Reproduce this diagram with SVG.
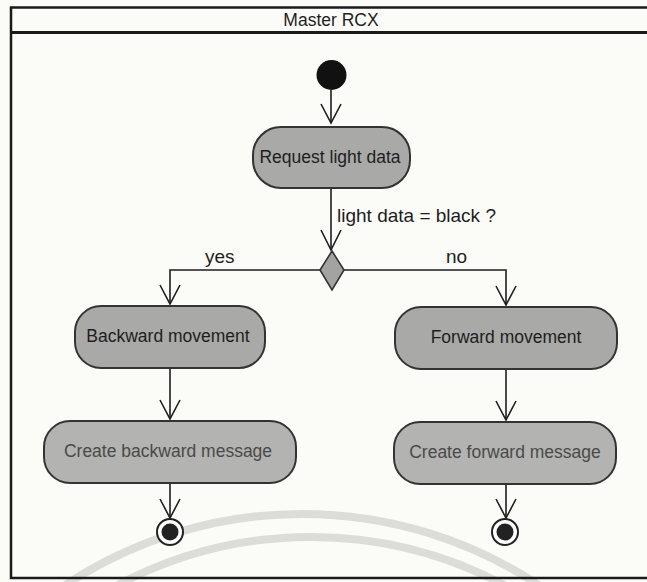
<svg xmlns="http://www.w3.org/2000/svg" width="647" height="582" viewBox="0 0 647 582">
  <style>
    .frame { fill: none; stroke: #1a1a1a; stroke-width: 2.5; }
    .action rect { fill: #a9a9a7; stroke: #333; stroke-width: 2; }
    .action.light rect { fill: #b3b3b1; }
    .action text { font-family: "Liberation Sans", Arial, sans-serif; font-size: 17.5px; fill: #1e1e1e; text-anchor: middle; }
    .action.light text { fill: #4a4a4a; }
    .title { font-family: "Liberation Sans", Arial, sans-serif; font-size: 17.5px; fill: #1e1e1e; text-anchor: middle; }
    .label { font-family: "Liberation Sans", Arial, sans-serif; font-size: 19px; fill: #1e1e1e; }
    .flow { fill: none; stroke: #1e1e1e; stroke-width: 1.6; }
    .head { fill: none; stroke: #1e1e1e; stroke-width: 1.6; }
    .arc { fill: none; stroke: #dcdcd9; stroke-width: 8; }
  </style>

  <rect x="0" y="0" width="647" height="582" fill="#fbfbf8"/>

  <!-- faint arcs along the bottom -->
  <g id="arcs">
    <path class="arc" d="M 64 586 A 429 429 0 0 1 540 586"/>
    <path class="arc" d="M 116 586 A 412 412 0 0 1 506 586"/>
  </g>

  <!-- swimlane frame -->
  <g id="lane">
    <path class="frame" d="M 660 7.5 L 11 7.5 L 11 578 L 660 578"/>
    <line x1="11" y1="32.5" x2="660" y2="32.5" stroke="#1a1a1a" stroke-width="3"/>
    <text x="331" y="26" class="title">Master RCX</text>
  </g>

  <!-- control flows -->
  <g id="flows">
    <line class="flow" x1="331" y1="90" x2="331" y2="123"/>
    <path class="head" d="M 321 104 L 331 123 L 341 104"/>

    <line class="flow" x1="331" y1="188" x2="331" y2="250"/>
    <path class="head" d="M 321 230 L 331 250 L 341 230"/>
    <text x="337" y="222" class="label">light data = black ?</text>

    <path class="flow" d="M 320 270 L 170 270 L 170 304"/>
    <path class="head" d="M 160 285 L 170 304 L 180 285"/>
    <text x="205" y="263" class="label">yes</text>

    <path class="flow" d="M 344 270 L 506 270 L 506 305"/>
    <path class="head" d="M 496 286 L 506 305 L 516 286"/>
    <text x="446" y="263" class="label">no</text>

    <line class="flow" x1="170" y1="368" x2="170" y2="419"/>
    <path class="head" d="M 160 400 L 170 419 L 180 400"/>

    <line class="flow" x1="506" y1="369" x2="506" y2="420"/>
    <path class="head" d="M 496 401 L 506 420 L 516 401"/>

    <line class="flow" x1="170" y1="483" x2="170" y2="518"/>
    <path class="head" d="M 160 499 L 170 518 L 180 499"/>

    <line class="flow" x1="506" y1="484" x2="506" y2="518"/>
    <path class="head" d="M 496 499 L 506 518 L 516 499"/>
  </g>

  <g id="start">
    <circle cx="331.5" cy="75" r="15" fill="#111"/>
  </g>

  <g id="request" class="action">
    <rect x="253" y="127" width="157" height="61" rx="28"/>
    <text x="330" y="163">Request light data</text>
  </g>

  <g id="decision">
    <path d="M 332 251 L 344 270 L 332 290 L 320 270 Z" fill="#a3a3a1" stroke="#333" stroke-width="1.6"/>
  </g>

  <g id="backward" class="action">
    <rect x="75" y="306" width="190" height="62" rx="26"/>
    <text x="168" y="342">Backward movement</text>
  </g>

  <g id="forward" class="action">
    <rect x="395" y="307" width="222" height="62" rx="26"/>
    <text x="506" y="343">Forward movement</text>
  </g>

  <g id="create-backward" class="action light">
    <rect x="44" y="421" width="252" height="62" rx="26"/>
    <text x="168" y="457">Create backward message</text>
  </g>

  <g id="create-forward" class="action light">
    <rect x="394" y="422" width="222" height="62" rx="26"/>
    <text x="505" y="458">Create forward message</text>
  </g>

  <g id="end-backward">
    <circle cx="170" cy="532" r="13" fill="#fff" stroke="#222" stroke-width="2"/>
    <circle cx="170" cy="532" r="8.5" fill="#222"/>
  </g>

  <g id="end-forward">
    <circle cx="505" cy="532" r="13" fill="#fff" stroke="#222" stroke-width="2"/>
    <circle cx="505" cy="532" r="8.5" fill="#222"/>
  </g>
</svg>
